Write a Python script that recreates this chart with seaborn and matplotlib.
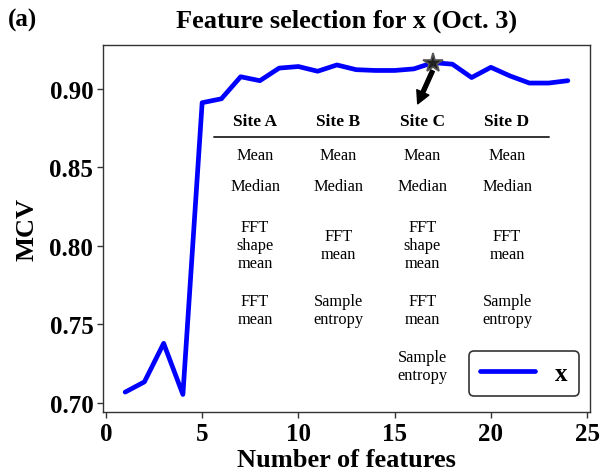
import numpy as np
import pandas as pd
import matplotlib
matplotlib.use("Agg")
import matplotlib.pyplot as plt
import seaborn as sns

# MCV versus number of selected features
n_features = list(range(1, 25))
mcv = [0.707, 0.7135, 0.738, 0.7055, 0.891, 0.8935, 0.9075, 0.905,
       0.913, 0.914, 0.911, 0.915, 0.912, 0.9115, 0.9115, 0.9125,
       0.9165, 0.9155, 0.907, 0.9135, 0.908, 0.9035, 0.9035, 0.905]
best_n = 17
best_mcv = 0.9165

# Selected features per site
sites = ["Site A", "Site B", "Site C", "Site D"]
site_features = [
    ["Mean", "Median", "FFT\nshape\nmean", "FFT\nmean"],
    ["Mean", "Median", "FFT\nmean", "Sample\nentropy"],
    ["Mean", "Median", "FFT\nshape\nmean", "FFT\nmean", "Sample\nentropy"],
    ["Mean", "Median", "FFT\nmean", "Sample\nentropy"],
]

sns.set_theme(style="ticks")
plt.rcParams["font.family"] = ["Liberation Serif", "DejaVu Serif"]
plt.rcParams["text.color"] = "black"
plt.rcParams["axes.labelcolor"] = "black"
plt.rcParams["xtick.color"] = "black"
plt.rcParams["ytick.color"] = "black"

df = pd.DataFrame({"n": n_features, "mcv": mcv})

fig = plt.figure(figsize=(6.06, 4.77), dpi=100)
ax = fig.add_axes([0.170, 0.134, 0.8036, 0.7696])

sns.lineplot(data=df, x="n", y="mcv", color="blue", linewidth=3.4,
             label="x", ax=ax)

# best subset marker and arrow
ax.plot([best_n], [best_mcv], marker="*", markersize=15,
        markerfacecolor="#222222", markeredgecolor="#555555",
        markeredgewidth=1.2, linestyle="none", zorder=5)
ax.annotate("", xy=(16.2, 0.8903), xytext=(16.97, 0.9113),
            arrowprops=dict(facecolor="black", edgecolor="black",
                            width=2.8, headwidth=9.5, headlength=9,
                            shrink=0.0), zorder=6)

ax.set_xlim(-0.15, 25.15)
ax.set_ylim(0.6943, 0.9277)
ax.set_xticks([0, 5, 10, 15, 20, 25])
ax.set_yticks([0.70, 0.75, 0.80, 0.85, 0.90])
ax.set_yticklabels([f"{v:.2f}" for v in [0.70, 0.75, 0.80, 0.85, 0.90]])
for lab in ax.get_xticklabels() + ax.get_yticklabels():
    lab.set_fontsize(18)
    lab.set_fontweight("bold")
ax.tick_params(axis="both", length=4, width=1, pad=3, colors="black")
ax.tick_params(axis="both", color="#333333")

ax.set_xlabel("Number of features", fontsize=19, fontweight="bold", labelpad=2)
ax.set_ylabel("MCV", fontsize=19, fontweight="bold", labelpad=8)
ax.set_title("Feature selection for x (Oct. 3)", fontsize=19,
             fontweight="bold", pad=13)
fig.text(0.013, 0.957, "(a)", fontsize=18, fontweight="bold",
         ha="left", va="center")

for sp in ax.spines.values():
    sp.set_linewidth(1.0)
    sp.set_color("#333333")

# feature table drawn inside the axes
col_x = [0.3121, 0.4836, 0.6554, 0.8296]
row_y = [0.700, 0.616, 0.455, 0.278, 0.125]
for cx, site, feats in zip(col_x, sites, site_features):
    ax.text(cx, 0.792, site, transform=ax.transAxes, ha="center",
            va="center", fontsize=12.5, fontweight="bold")
    for ry, feat in zip(row_y, feats):
        ax.text(cx, ry, feat, transform=ax.transAxes, ha="center",
                va="center", fontsize=11.8, linespacing=1.15)
ax.plot([0.228, 0.916], [0.749, 0.749], transform=ax.transAxes,
        color="#333333", linewidth=1.4)

leg = ax.legend(loc="lower right", bbox_to_anchor=(0.9774, 0.0436),
                borderaxespad=0, handlelength=2.2,
                handletextpad=0.8, borderpad=0.45, frameon=True,
                fancybox=True, framealpha=1.0,
                prop={"size": 18, "weight": "bold"})
leg.get_frame().set_edgecolor("#333333")
leg.get_frame().set_linewidth(1.2)

fig.savefig("out.png", dpi=100)
